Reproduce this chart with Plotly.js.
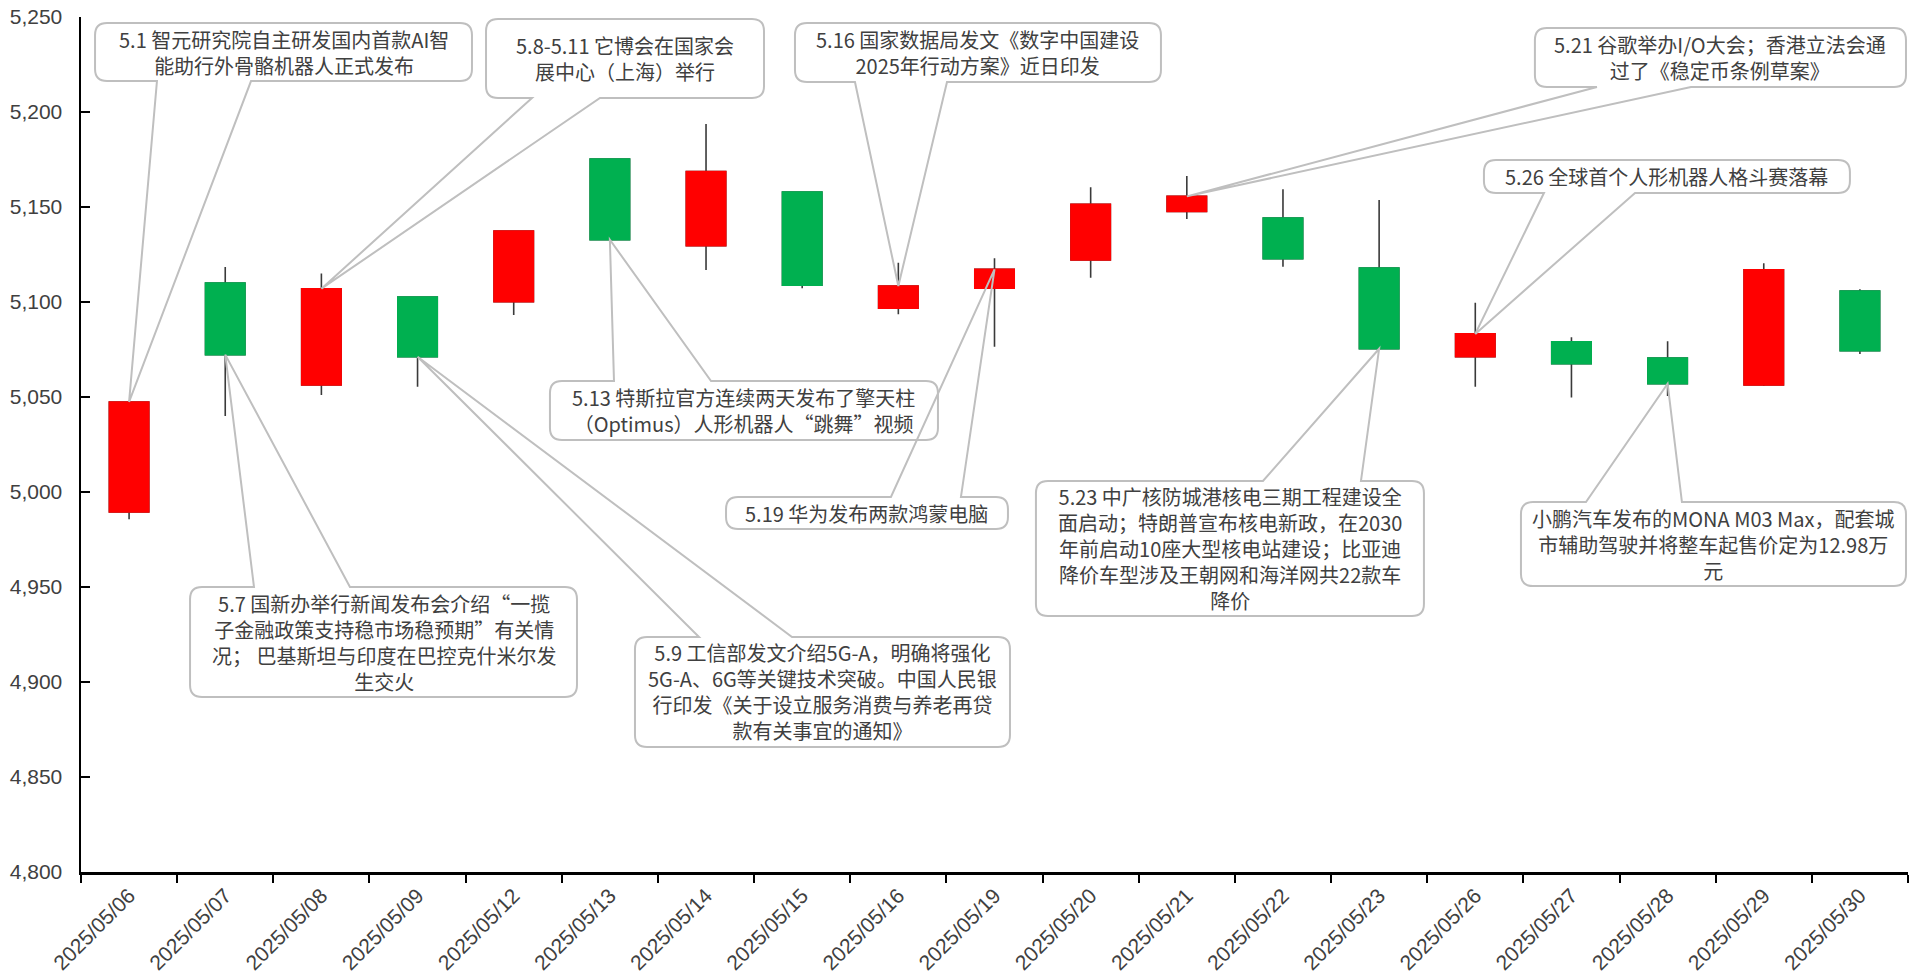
<!DOCTYPE html>
<html>
<head>
<meta charset="utf-8">
<script src="https://cdn.plot.ly/plotly-3.0.1.min.js"></script>
<style>html,body{margin:0;padding:0;background:#fff;}#chart{width:1909px;height:979px;}</style>
</head>
<body>
<div id="chart"></div>
<script>
// ---------- data ----------
const dates = ['2025/05/06','2025/05/07','2025/05/08','2025/05/09','2025/05/12','2025/05/13','2025/05/14','2025/05/15','2025/05/16','2025/05/19','2025/05/20','2025/05/21','2025/05/22','2025/05/23','2025/05/26','2025/05/27','2025/05/28','2025/05/29','2025/05/30'];
const openP  = [4989.5,5110.0,5056.3,5102.6,5100.2,5175.3,5129.6,5157.9,5096.8,5107.2,5122.1,5147.7,5144.2,5117.9,5071.2,5079.0,5070.5,5056.3,5105.8];
const highP  = [5048.0,5118.4,5115.0,5102.8,5137.6,5175.5,5193.7,5158.1,5120.7,5123.0,5160.4,5166.3,5159.3,5153.7,5099.6,5081.4,5079.3,5120.4,5106.7];
const lowP   = [4985.6,5040.0,5051.0,5055.4,5093.2,5132.5,5116.8,5107.2,5093.5,5076.5,5112.8,5143.7,5118.6,5075.2,5055.4,5049.8,5050.5,5055.8,5072.6];
const closeP = [5047.4,5072.3,5107.0,5071.2,5137.4,5132.8,5168.6,5108.9,5108.4,5117.2,5151.4,5155.6,5122.8,5075.4,5083.2,5067.5,5057.0,5117.0,5074.4];

const yTickVals = [4800,4850,4900,4950,5000,5050,5100,5150,5200,5250];

const eventDates = ['2025/05/06','2025/05/08','2025/05/16','2025/05/21','2025/05/26','2025/05/13','2025/05/19','2025/05/07','2025/05/09','2025/05/23','2025/05/28'];
const eventTexts = [
  '5.1 智元研究院自主研发国内首款AI智<br>能助行外骨骼机器人正式发布',
  '5.8-5.11 它博会在国家会<br>展中心（上海）举行',
  '5.16 国家数据局发文《数字中国建设<br>2025年行动方案》近日印发',
  '5.21 谷歌举办I/O大会；香港立法会通<br>过了《稳定币条例草案》',
  '5.26 全球首个人形机器人格斗赛落幕',
  '5.13 特斯拉官方连续两天发布了擎天柱<br>（Optimus）人形机器人“跳舞”视频',
  '5.19 华为发布两款鸿蒙电脑',
  '5.7 国新办举行新闻发布会介绍“一揽<br>子金融政策支持稳市场稳预期”有关情<br>况； 巴基斯坦与印度在巴控克什米尔发<br>生交火',
  '5.9 工信部发文介绍5G-A，明确将强化<br>5G-A、6G等关键技术突破。中国人民银<br>行印发《关于设立服务消费与养老再贷<br>款有关事宜的通知》',
  '5.23 中广核防城港核电三期工程建设全<br>面启动；特朗普宣布核电新政，在2030<br>年前启动10座大型核电站建设；比亚迪<br>降价车型涉及王朝网和海洋网共22款车<br>降价',
  '小鹏汽车发布的MONA M03 Max，配套城<br>市辅助驾驶并将整车起售价定为12.98万<br>元'
];

// ---------- layout of callout boxes (axis units: category index / value) ----------
// [left, right, bottom, top, baseA, baseB, edge]
const calloutBoxes = [
  [-0.354, 3.566, 5216.3, 5246.8, 0.290, 1.268, 'bottom'],
  [ 3.712, 6.603, 5207.4, 5248.9, 4.190, 4.897, 'bottom'],
  [ 6.925,10.731, 5215.8, 5246.8, 7.549, 8.506, 'bottom'],
  [14.620,18.479, 5213.2, 5244.2,15.265,16.243, 'bottom'],
  [14.090,17.896, 5157.4, 5174.7,14.714,15.661, 'bottom'],
  [ 4.377, 8.412, 5027.4, 5058.4, 5.043, 6.052, 'top'],
  [ 6.208, 9.140, 4980.5, 4997.4, 7.923, 8.651, 'top'],
  [ 0.634, 4.658, 4892.1, 4950.0, 1.299, 2.297, 'top'],
  [ 5.261, 9.161, 4865.8, 4923.7, 5.927, 6.894, 'top'],
  [ 9.431,13.466, 4934.7, 5005.8,11.792,12.811, 'top'],
  [14.475,18.479, 4950.5, 4994.7,15.151,16.149, 'top']
];

// ---------- geometry / style ----------
const W = 1909, H = 979;
const M = {l: 81, r: 1, t: 17, b: 107};
const plotW = W - M.l - M.r, plotH = H - M.t - M.b;
const yMin = 4800, yMax = 5250;
const xMin = -0.5, xMax = dates.length - 0.5;
const rx = 12 * (xMax - xMin) / plotW;
const ry = 12 * (yMax - yMin) / plotH;
const textColor = '#404040';
const boxLine = '#bfbfbf';
const red = '#FF0000', green = '#00B050';

const traces = [
  {
    type: 'candlestick', x: dates, open: openP, high: highP, low: lowP, close: closeP,
    increasing: {line: {color: '#3a3a3a', width: 1.6}, fillcolor: red},
    decreasing: {line: {color: '#3a3a3a', width: 1.6}, fillcolor: green},
    whiskerwidth: 0, hoverinfo: 'skip', showlegend: false
  },
  {
    type: 'candlestick', x: dates, open: openP, close: closeP,
    high: openP.map((o, i) => Math.max(o, closeP[i])),
    low: openP.map((o, i) => Math.min(o, closeP[i])),
    increasing: {line: {color: red, width: 1.6}, fillcolor: red},
    decreasing: {line: {color: green, width: 1.6}, fillcolor: green},
    whiskerwidth: 0, hoverinfo: 'skip', showlegend: false
  }
];

function f(v) { return v.toFixed(4); }
function roundRect(x0, x1, y0, y1) {
  return 'M' + f(x0 + rx) + ',' + f(y1) +
    ' L' + f(x1 - rx) + ',' + f(y1) + ' Q' + f(x1) + ',' + f(y1) + ' ' + f(x1) + ',' + f(y1 - ry) +
    ' L' + f(x1) + ',' + f(y0 + ry) + ' Q' + f(x1) + ',' + f(y0) + ' ' + f(x1 - rx) + ',' + f(y0) +
    ' L' + f(x0 + rx) + ',' + f(y0) + ' Q' + f(x0) + ',' + f(y0) + ' ' + f(x0) + ',' + f(y0 + ry) +
    ' L' + f(x0) + ',' + f(y1 - ry) + ' Q' + f(x0) + ',' + f(y1) + ' ' + f(x0 + rx) + ',' + f(y1) + ' Z';
}
function outline(x0, x1, y0, y1, ba, bb, edge, tx, ty) {
  let p = 'M' + f(x0 + rx) + ',' + f(y1);
  if (edge === 'top') p += ' L' + f(ba) + ',' + f(y1) + ' L' + f(tx) + ',' + f(ty) + ' L' + f(bb) + ',' + f(y1);
  p += ' L' + f(x1 - rx) + ',' + f(y1) + ' Q' + f(x1) + ',' + f(y1) + ' ' + f(x1) + ',' + f(y1 - ry);
  p += ' L' + f(x1) + ',' + f(y0 + ry) + ' Q' + f(x1) + ',' + f(y0) + ' ' + f(x1 - rx) + ',' + f(y0);
  if (edge === 'bottom') p += ' L' + f(bb) + ',' + f(y0) + ' L' + f(tx) + ',' + f(ty) + ' L' + f(ba) + ',' + f(y0);
  p += ' L' + f(x0 + rx) + ',' + f(y0) + ' Q' + f(x0) + ',' + f(y0) + ' ' + f(x0) + ',' + f(y0 + ry);
  p += ' L' + f(x0) + ',' + f(y1 - ry) + ' Q' + f(x0) + ',' + f(y1) + ' ' + f(x0 + rx) + ',' + f(y1);
  return p;
}

const shapes = [], annotations = [];
calloutBoxes.forEach((b, k) => {
  const [x0, x1, y0, y1, ba, bb, edge] = b;
  const idx = dates.indexOf(eventDates[k]);
  const tx = idx, ty = closeP[idx];
  shapes.push({type: 'path', xref: 'x', yref: 'y', path: roundRect(x0, x1, y0, y1),
    fillcolor: '#ffffff', line: {width: 0}, layer: 'above'});
  shapes.push({type: 'path', xref: 'x', yref: 'y', path: outline(x0, x1, y0, y1, ba, bb, edge, tx, ty),
    fillcolor: 'rgba(0,0,0,0)', line: {color: boxLine, width: 2}, layer: 'above'});
  annotations.push({xref: 'x', yref: 'y', x: (x0 + x1) / 2, y: (y0 + y1) / 2,
    text: eventTexts[k], showarrow: false, xanchor: 'center', yanchor: 'middle', align: 'center',
    font: {family: '"Noto Sans CJK SC", "Noto Sans", sans-serif', size: 20, color: textColor}});
});

const layout = {
  width: W, height: H, autosize: false,
  margin: {l: M.l, r: M.r, t: M.t, b: M.b, pad: 0},
  paper_bgcolor: '#ffffff', plot_bgcolor: '#ffffff',
  showlegend: false,
  boxgap: 0.59, boxgroupgap: 0,
  xaxis: {
    type: 'category', range: [xMin, xMax], fixedrange: true,
    rangeslider: {visible: false},
    showgrid: false, zeroline: false,
    showline: true, linecolor: '#000000', linewidth: 3,
    ticks: 'outside', tickson: 'boundaries', ticklen: 8, tickwidth: 2, tickcolor: '#000000',
    tickangle: -45, tickfont: {family: '"Liberation Sans", Arial, sans-serif', size: 21, color: textColor}
  },
  yaxis: {
    range: [yMin, yMax], fixedrange: true,
    tickvals: yTickVals, tickformat: ',d',
    showgrid: false, zeroline: false,
    showline: true, linecolor: '#000000', linewidth: 2.5,
    ticks: 'inside', ticklen: 9, tickwidth: 2, tickcolor: '#000000',
    ticklabelstandoff: 12,
    tickfont: {family: '"Liberation Sans", Arial, sans-serif', size: 21, color: textColor}
  },
  shapes: shapes,
  annotations: annotations
};

Plotly.newPlot('chart', traces, layout, {displayModeBar: false, staticPlot: true});
</script>
</body>
</html>
